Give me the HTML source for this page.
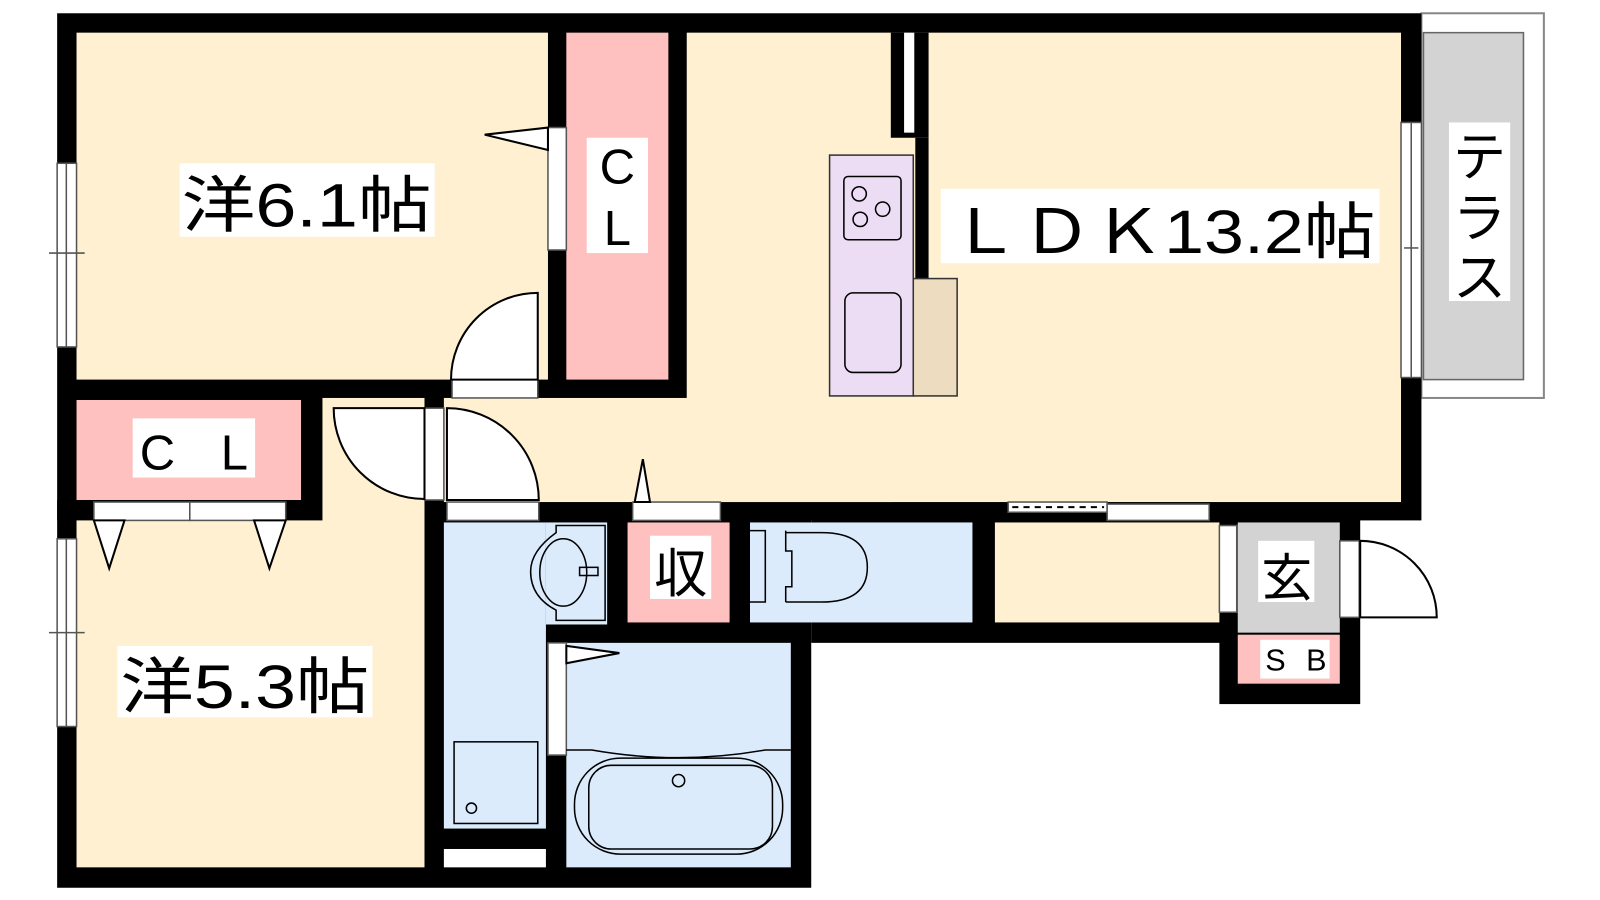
<!DOCTYPE html>
<html><head><meta charset="utf-8"><style>
html,body{margin:0;padding:0;background:#fff;width:1600px;height:900px;overflow:hidden}
svg{display:block}
text{font-family:"Liberation Sans","Noto Sans CJK JP",sans-serif;fill:#000}
</style></head><body>
<svg width="1600" height="900" viewBox="0 0 1568 882" preserveAspectRatio="none" xmlns="http://www.w3.org/2000/svg">
<rect width="1568" height="882" fill="#fff"/>
<!-- terrace -->
<rect x="1393" y="13" width="120" height="377" fill="#fff" stroke="#888" stroke-width="2"/>
<rect x="1395" y="32" width="98" height="340" fill="#d3d3d3" stroke="#666" stroke-width="1.5"/>
<!-- black walls -->
<rect x="56" y="13" width="1337" height="497" fill="#000"/>
<rect x="56" y="490" width="739" height="380" fill="#000"/>
<rect x="795" y="490" width="418" height="140" fill="#000"/>
<rect x="1195" y="492" width="138" height="198" fill="#000"/>
<!-- cream rooms -->
<g fill="#fef0d0">
<rect x="75" y="32" width="462" height="340"/>
<rect x="673" y="32" width="700" height="460"/>
<rect x="435" y="390" width="440" height="102"/>
<rect x="316" y="390" width="100" height="122"/>
<rect x="75" y="510" width="341" height="340"/>
<rect x="975" y="512" width="220" height="98"/>
</g>
<rect x="873" y="32" width="37" height="103" fill="#000"/>
<rect x="897" y="135" width="13" height="138" fill="#000"/>
<rect x="886" y="32" width="10" height="98" fill="#fff"/>
<!-- pinks -->
<g fill="#ffc0c0">
<rect x="555" y="32" width="100" height="340"/>
<rect x="75" y="392" width="220" height="98"/>
<rect x="615" y="512" width="100" height="98"/>
<rect x="1213" y="622" width="100" height="48"/>
</g>
<!-- blues -->
<g fill="#dcebfc">
<rect x="435" y="512" width="100" height="300"/>
<rect x="535" y="512" width="60" height="100"/>
<rect x="555" y="630" width="220" height="220"/>
<rect x="735" y="512" width="218" height="98"/>
</g>
<rect x="435" y="832" width="100" height="18" fill="#fff"/>
<rect x="1213" y="512" width="100" height="108" fill="#d3d3d3"/>
<!-- windows / frames -->
<g fill="#fff" stroke="#555" stroke-width="1.5">
<rect x="56" y="160" width="19" height="180"/>
<rect x="56" y="528" width="19" height="184"/>
<rect x="1373" y="120" width="20" height="250"/>
<rect x="537" y="125" width="18" height="120"/>
<rect x="443" y="372" width="84" height="18"/>
<rect x="92" y="492" width="94" height="18"/>
<rect x="186" y="492" width="94" height="18"/>
<rect x="416" y="400" width="19" height="90"/>
<rect x="438" y="492" width="90" height="18"/>
<rect x="620" y="492" width="86" height="18"/>
<rect x="988" y="492" width="97" height="10"/>
<rect x="1085" y="494" width="100" height="16"/>
<rect x="1195" y="515" width="17" height="85"/>
<rect x="1313" y="530" width="19" height="75"/>
<rect x="537" y="630" width="18" height="110"/>
</g>
<line x1="992" y1="497" x2="1082" y2="497" stroke="#000" stroke-width="2" stroke-dasharray="6,5"/>
<g stroke="#555" stroke-width="1.5">
<line x1="65" y1="160" x2="65" y2="340"/><line x1="65" y1="528" x2="65" y2="712"/>
<line x1="1383" y1="120" x2="1383" y2="370"/>
<line x1="48" y1="248" x2="83" y2="248"/><line x1="48" y1="620" x2="83" y2="620"/>
<line x1="1376" y1="243" x2="1390" y2="243"/>
</g>
<!-- doors -->
<g fill="#fff" stroke="#000" stroke-width="2">
<path d="M527,372 L442,372 A85,85 0 0 1 527,287 Z"/>
<path d="M416,400 L327,400 A89,89 0 0 0 416,489 Z"/>
<path d="M438,490 L438,400 A90,90 0 0 1 528,490 Z"/>
<path d="M1333,605 L1333,530 A75,75 0 0 1 1408,605 Z"/>
<path d="M537,125 L475,132 L537,147 Z"/>
<path d="M92,510 L107,557 L122,510 Z"/>
<path d="M249,510 L264,557 L280,510 Z"/>
<path d="M622,492 L630,450 L637,492 Z"/>
<path d="M555,633 L607,640 L555,650 Z"/>
</g>
<!-- kitchen -->
<rect x="813" y="152" width="82" height="236" fill="#ecdcf4" stroke="#333" stroke-width="1.5"/>
<rect x="895" y="273" width="43" height="115" fill="#eedcc0" stroke="#333" stroke-width="1.5"/>
<g fill="none" stroke="#000" stroke-width="1.5">
<rect x="827" y="173" width="56" height="62" rx="4"/>
<rect x="828" y="287" width="55" height="78" rx="8"/>
<circle cx="842" cy="190" r="7"/><circle cx="865" cy="205" r="7"/><circle cx="843" cy="215" r="7"/>
<rect x="445" y="727" width="82" height="80"/>
<circle cx="462" cy="792" r="5"/>
<path d="M555,735 L580,735 Q665,750 750,735 L775,735"/>
<rect x="563" y="743" width="204" height="94" rx="45"/>
<rect x="577" y="750" width="180" height="82" rx="22"/>
<circle cx="665" cy="765" r="6"/>
<path d="M593,515 L545,515 L545,522 Q520,540 520,560 Q520,585 545,598 L545,608 L593,608 Z"/>
<ellipse cx="552" cy="561" rx="23" ry="33"/>
<rect x="568" y="556" width="18" height="8"/>
<path d="M735,520 L750,520 L750,590 L735,590"/>
<path d="M770,520 L770,540 L776,540 L776,575 L770,575 L770,590"/>
<path d="M770,522 L805,522 Q850,522 850,556 Q850,590 805,590 L770,590"/>
</g>
<!-- labels -->
<g fill="#fff">
<rect x="176" y="160" width="250" height="72"/>
<rect x="922" y="185" width="430" height="73"/>
<rect x="575" y="135" width="60" height="113"/>
<rect x="130" y="410" width="120" height="58"/>
<rect x="637" y="525" width="60" height="62"/>
<rect x="115" y="633" width="250" height="70"/>
<rect x="1233" y="530" width="55" height="60"/>
<rect x="1235" y="627" width="68" height="38"/>
<rect x="1420" y="120" width="60" height="175"/>
</g>
<text x="178" y="222" font-size="60" textLength="245" lengthAdjust="spacingAndGlyphs">洋6.1帖</text>
<text x="930" y="248" font-size="60" textLength="418" lengthAdjust="spacingAndGlyphs">ＬＤＫ13.2帖</text>
<text x="605" y="180" font-size="48" text-anchor="middle">C</text>
<text x="605" y="240" font-size="48" text-anchor="middle">L</text>
<text x="137" y="460" font-size="48" textLength="106" lengthAdjust="spacing">C L</text>
<text x="667" y="580" font-size="52" text-anchor="middle">収</text>
<text x="118" y="694" font-size="60" textLength="244" lengthAdjust="spacingAndGlyphs">洋5.3帖</text>
<text x="1261" y="584" font-size="50" text-anchor="middle">玄</text>
<text x="1240" y="657" font-size="30" textLength="60" lengthAdjust="spacing">S B</text>
<text x="1450" y="172" font-size="52" text-anchor="middle">テ</text>
<text x="1450" y="232" font-size="52" text-anchor="middle">ラ</text>
<text x="1450" y="290" font-size="52" text-anchor="middle">ス</text>
</svg>
</body></html>
